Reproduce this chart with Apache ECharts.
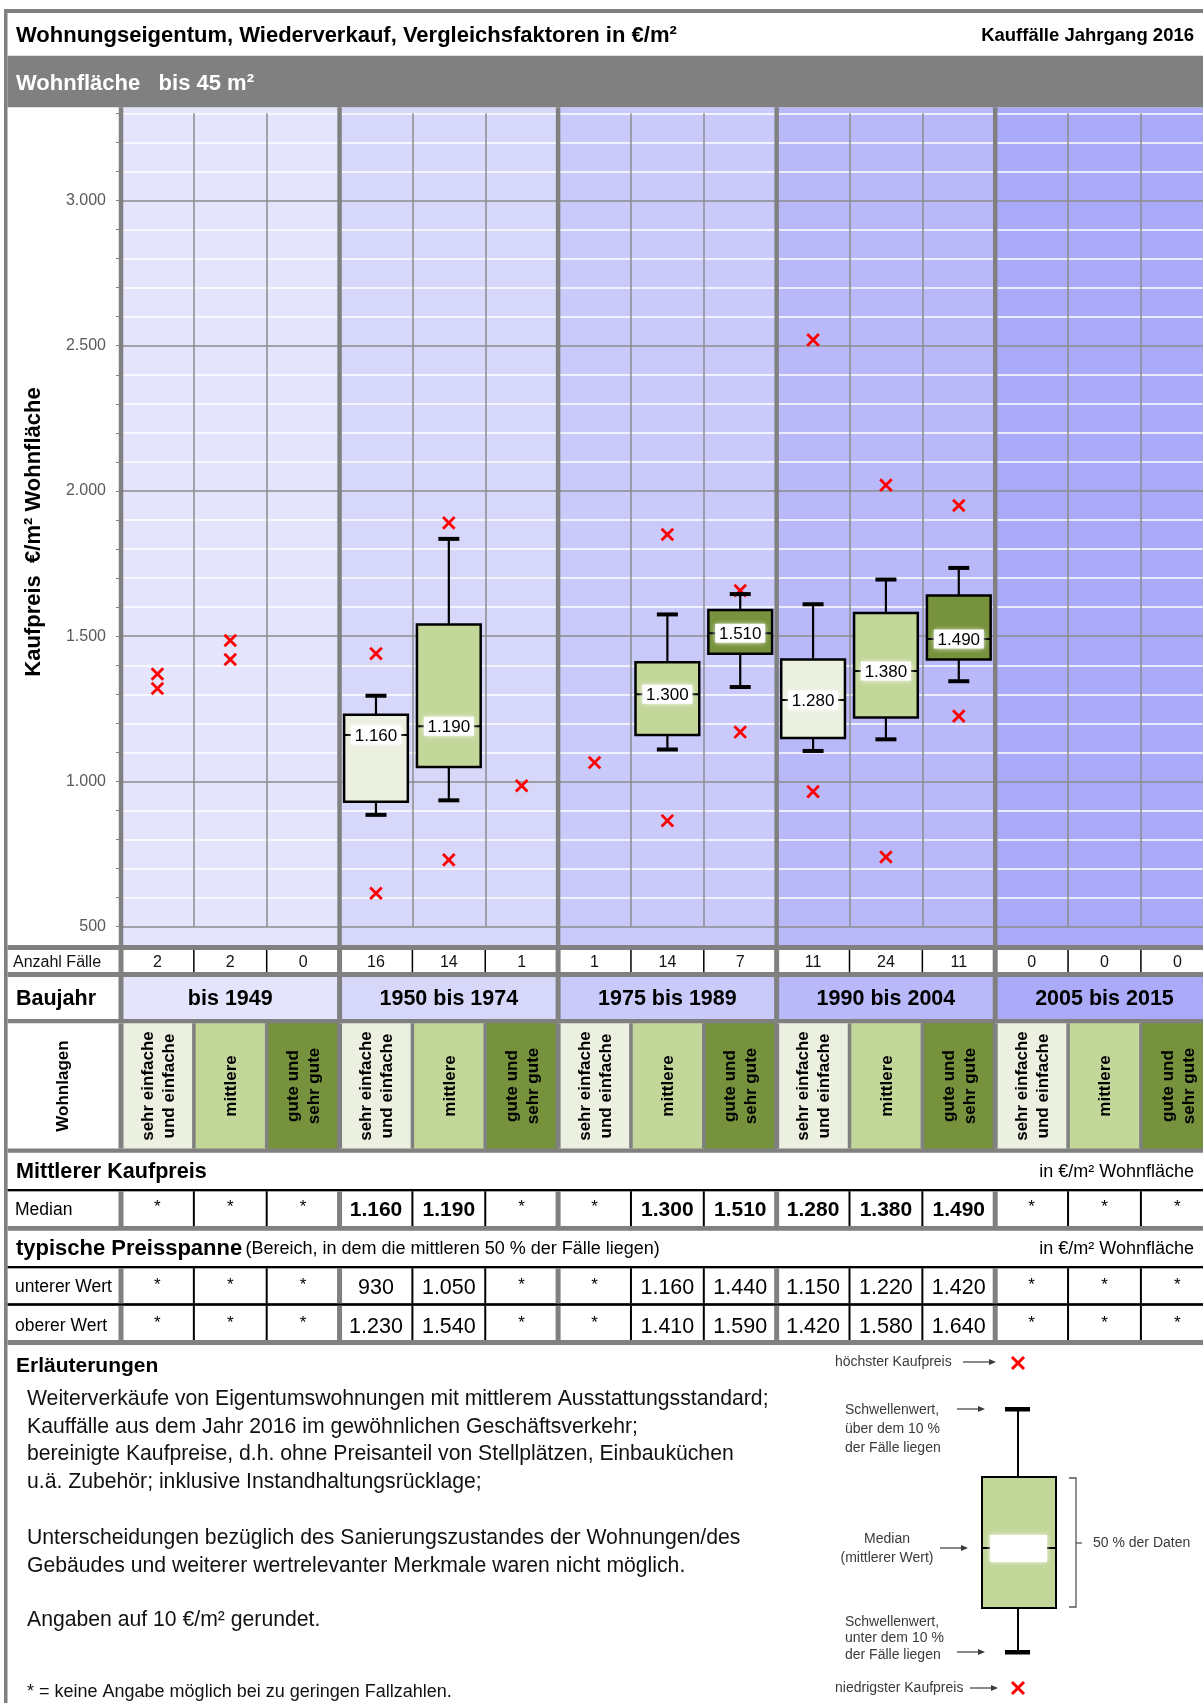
<!DOCTYPE html>
<html><head><meta charset="utf-8">
<script src="https://cdn.jsdelivr.net/npm/echarts@6/dist/echarts.min.js"></script>
<style>html,body{margin:0;padding:0;background:#fff}#c{width:1203px;height:1703px}</style>
</head><body><div id="c"></div>
<script>
// ---------- data ----------
const groupLabels = ['bis 1949','1950 bis 1974','1975 bis 1989','1990 bis 2004','2005 bis 2015'];
const lageLabels = ['sehr einfache\nund einfache','mittlere','gute und\nsehr gute'];
const caseCounts     = [2,2,0, 16,14,1, 1,14,7, 11,24,11, 0,0,0];
const medianValues   = [null,null,null, 1160,1190,null, null,1300,1510, 1280,1380,1490, null,null,null];
const lowerQuartile  = [null,null,null, 930,1050,null, null,1160,1440, 1150,1220,1420, null,null,null];
const upperQuartile  = [null,null,null, 1230,1540,null, null,1410,1590, 1420,1580,1640, null,null,null];
const lowerThreshold = [null,null,null, 885,935,null, null,1110,1325, 1105,1145,1345, null,null,null];
const upperThreshold = [null,null,null, 1295,1835,null, null,1575,1645, 1610,1695,1735, null,null,null];
const lowestPrice    = [1320,1420,null, 615,730,985, 1065,865,1170, 965,740,1225, null,null,null];
const highestPrice   = [1370,1485,null, 1440,1890,null, null,1850,1657, 2520,2020,1950, null,null,null];
const yTickLabels = ['500','1.000','1.500','2.000','2.500','3.000'];

// ---------- helpers ----------
const FF = '"Liberation Sans", Arial, sans-serif';
const W = 1203;
const PL = 121, CW = 72.85, NCOL = 15;
const PT = 113.3, PB = 926.7;
const bx = i => PL + i * CW;
const cx = i => PL + (i + 0.5) * CW;
const BAND = ['#E4E4FC','#D7D7FA','#C9C9FA','#B9B9F9','#AAAAF8'];
const LAGE = ['#EBF0E0','#C4D79B','#76923C'];
const GRAY = '#808080';
const fmt = n => n == null ? '*' : (n >= 1000 ? Math.floor(n/1000) + '.' + String(n % 1000).padStart(3,'0') : String(n));

const G = [];
function R(x,y,w,h,fill,z){ G.push({type:'rect',silent:true,z:z==null?1:z,shape:{x:x,y:y,width:w,height:h},style:{fill:fill}}); }
function L(x1,y1,x2,y2,stroke,lw,z){ G.push({type:'line',silent:true,z:z==null?3:z,shape:{x1:x1,y1:y1,x2:x2,y2:y2},style:{stroke:stroke,lineWidth:lw}}); }
function T(x,y,text,font,o){ o=o||{}; G.push({type:'text',silent:true,z:o.z==null?6:o.z,x:x,y:y,rotation:o.rot||0,
  style:{text:text,font:font,fill:o.fill||'#000',align:o.align||'left',verticalAlign:'middle',lineHeight:o.lh||undefined}}); }
function arrow(x1,x2,y,c){ L(x1,y,x2-5,y,c,1.2,6); G.push({type:'polygon',silent:true,z:6,shape:{points:[[x2,y],[x2-7,y-3],[x2-7,y+3]]},style:{fill:c}}); }
function redX(x,y){ L(x-6,y-6,x+6,y+6,'#FF0000',3,6); L(x-6,y+6,x+6,y-6,'#FF0000',3,6); }

// ---------- frame / header ----------
R(4,9,W-4,4,GRAY,20);
R(4,9,3.5,1703-9,GRAY,20);
R(7.5,55.7,W,51.6,GRAY,1);
T(16,35.5,'Wohnungseigentum, Wiederverkauf, Vergleichsfaktoren in €/m²','bold 22px '+FF);
T(1194,35.5,'Kauffälle Jahrgang 2016','bold 18.5px '+FF,{align:'right'});
T(16,83.5,'Wohnfläche   bis 45 m²','bold 22px '+FF,{fill:'#fff'});

// plot backgrounds & thick separators
for (let g=0; g<5; g++) R(bx(3*g),107.3,3*CW,945-107.3,BAND[g],-1);
for (let g=0; g<=5; g++) R(bx(3*g)-2.25,107.3,4.5,945-107.3,GRAY,1);
T(33.5,532,'Kaufpreis  €/m² Wohnfläche','bold 22px '+FF,{rot:Math.PI/2,align:'center'});

// ---------- table ----------
R(7.5,945,W,400,GRAY,0);
function sepRow(y0,y1,thinColor,thinW){
  for (let i=0;i<=NCOL;i++){
    if (i%3===0) R(bx(i)-2.5,y0,5,y1-y0,GRAY,3);
    else R(bx(i)-thinW/2,y0,thinW,y1-y0,thinColor,3);
  }
}
// Anzahl Fälle
R(7.5,950,W,22,'#fff',1);
sepRow(950,972,'#000',1.5);
T(13,962.5,'Anzahl Fälle','16px '+FF,{fill:'#111'});
for (let i=0;i<NCOL;i++) T(cx(i),962.5,String(caseCounts[i]),'16px '+FF,{align:'center',fill:'#111'});
// Baujahr
R(7.5,977,bx(0)-7.5,42,'#fff',1);
for (let g=0;g<5;g++){ R(bx(3*g),977,3*CW,42,BAND[g],1); T(bx(3*g)+1.5*CW,999,groupLabels[g],'bold 21.5px '+FF,{align:'center'}); }
for (let g=0;g<=5;g++) R(bx(3*g)-2.5,977,5,42,GRAY,3);
T(16,999,'Baujahr','bold 21.5px '+FF);
// Wohnlagen
R(7.5,1023.3,bx(0)-7.5,125.2,'#fff',1);
for (let i=0;i<NCOL;i++){ R(bx(i),1023.3,CW,125.2,LAGE[i%3],1); T(cx(i)+1,1086,lageLabels[i%3],'bold 17px '+FF,{rot:Math.PI/2,align:'center',lh:21}); }
sepRow(1023.3,1148.5,GRAY,3.5);
T(63,1086,'Wohnlagen','bold 17px '+FF,{rot:Math.PI/2,align:'center'});
// Mittlerer Kaufpreis
R(7.5,1152.7,W,36.3,'#fff',1);
T(16,1172,'Mittlerer Kaufpreis','bold 21.6px '+FF);
T(1194,1172,'in €/m² Wohnfläche','18px '+FF,{align:'right'});
R(7.5,1189,W,2.2,'#000',2);
// Median row
R(7.5,1191.2,W,34.8,'#fff',1);
sepRow(1191.2,1226,'#000',2);
T(15,1210,'Median','17.5px '+FF);
for (let i=0;i<NCOL;i++){ const v=medianValues[i]; T(cx(i),v==null?1207:1210,fmt(v),(v==null?'17px ':'bold 21px ')+FF,{align:'center'}); }
// typische Preisspanne
R(7.5,1230.7,W,35.3,'#fff',1);
G.push({type:'text',silent:true,z:6,x:16,y:1249,style:{text:'{b|typische Preisspanne} {r|(Bereich, in dem die mittleren 50 % der Fälle liegen)}',verticalAlign:'middle',align:'left',
  rich:{b:{font:'bold 22px '+FF,fill:'#000'},r:{font:'18px '+FF,fill:'#000'}}}});
T(1194,1249,'in €/m² Wohnfläche','18px '+FF,{align:'right'});
R(7.5,1266,W,2.2,'#000',2);
// unterer Wert
R(7.5,1268.2,W,35.1,'#fff',1);
sepRow(1268.2,1303.3,'#000',2);
T(15,1287.5,'unterer Wert','17.5px '+FF);
for (let i=0;i<NCOL;i++){ const v=lowerQuartile[i]; T(cx(i),v==null?1285:1288.5,fmt(v),(v==null?'17px ':'21.5px ')+FF,{align:'center'}); }
R(7.5,1303.3,W,2.4,'#000',2);
// oberer Wert
R(7.5,1305.7,W,34.3,'#fff',1);
sepRow(1305.7,1340,'#000',2);
T(15,1326.5,'oberer Wert','17.5px '+FF);
for (let i=0;i<NCOL;i++){ const v=upperQuartile[i]; T(cx(i),v==null?1323.5:1327,fmt(v),(v==null?'17px ':'21.5px ')+FF,{align:'center'}); }

// ---------- notes ----------
T(16,1366,'Erläuterungen','bold 21px '+FF);
const noteLines = [
 ['Weiterverkäufe von Eigentumswohnungen mit mittlerem Ausstattungsstandard;',1399.6],
 ['Kauffälle aus dem Jahr 2016 im gewöhnlichen Geschäftsverkehr;',1426.9],
 ['bereinigte Kaufpreise, d.h. ohne Preisanteil von Stellplätzen, Einbauküchen',1454.6],
 ['u.ä. Zubehör; inklusive Instandhaltungsrücklage;',1482],
 ['Unterscheidungen bezüglich des Sanierungszustandes der Wohnungen/des',1538.6],
 ['Gebäudes und weiterer wertrelevanter Merkmale waren nicht möglich.',1565.8],
 ['Angaben auf 10 €/m² gerundet.',1620]
];
noteLines.forEach(l => T(27,l[1],l[0],'21.2px '+FF,{fill:'#111'}));
T(27,1692,'* = keine Angabe möglich bei zu geringen Fallzahlen.','18px '+FF,{fill:'#111'});

// ---------- legend ----------
const LC = '#3a3a3a', LF = '14px '+FF;
T(835,1362,'höchster Kaufpreis',LF,{fill:LC}); arrow(963,996,1362,LC); redX(1018,1363);
T(845,1410,'Schwellenwert,',LF,{fill:LC}); T(845,1429,'über dem 10 %',LF,{fill:LC}); T(845,1448,'der Fälle liegen',LF,{fill:LC});
arrow(957,985,1409,LC);
L(1018,1409,1018,1477,'#000',2,6); R(1005,1407,25,4.5,'#000',7);
R(982,1477,74,131,'#C4D79B',6); G.push({type:'rect',silent:true,z:7,shape:{x:982,y:1477,width:74,height:131},style:{fill:'none',stroke:'#000',lineWidth:2}});
L(982,1548,1056,1548,'#000',2,7); G.push({type:'rect',silent:true,z:8,shape:{x:990,y:1535,width:57,height:27},style:{fill:'#fff',shadowBlur:4,shadowColor:'#fff'}});
L(1018,1608,1018,1652,'#000',2,6); R(1005,1650,25,4.5,'#000',7);
T(887,1539,'Median',LF,{fill:LC,align:'center'}); T(887,1558,'(mittlerer Wert)',LF,{fill:LC,align:'center'});
arrow(940,968,1548,LC);
G.push({type:'polyline',silent:true,z:6,shape:{points:[[1069,1478],[1076,1478],[1076,1607],[1069,1607]]},style:{stroke:'#555',lineWidth:1.3,fill:'none'}});
L(1076,1543,1082,1543,'#555',1.3,6);
T(1093,1543,'50 % der Daten',LF,{fill:LC});
T(845,1622,'Schwellenwert,',LF,{fill:LC}); T(845,1638.5,'unter dem 10 %',LF,{fill:LC}); T(845,1655,'der Fälle liegen',LF,{fill:LC});
arrow(957,985,1652,LC);
T(835,1688,'niedrigster Kaufpreis',LF,{fill:LC}); arrow(970,998,1688,LC); redX(1018,1688);

// ---------- series data ----------
const categories = [];
for (let i=0;i<NCOL;i++) categories.push(groupLabels[Math.floor(i/3)] + ' / ' + lageLabels[i%3].replace('\n',' '));
const boxData = [];
const crossData = [];
for (let i=0;i<NCOL;i++){
  if (medianValues[i]!=null) boxData.push([i, lowerThreshold[i], lowerQuartile[i], medianValues[i], upperQuartile[i], upperThreshold[i], i%3]);
  if (lowestPrice[i]!=null) crossData.push([i, lowestPrice[i]]);
  if (highestPrice[i]!=null) crossData.push([i, highestPrice[i]]);
}

function renderCross(params, api){
  const p = api.coord([api.value(0), api.value(1)]);
  const s = 5.8;
  return {type:'group', children:[
    {type:'line', shape:{x1:p[0]-s,y1:p[1]-s,x2:p[0]+s,y2:p[1]+s}, style:{stroke:'#FF0000',lineWidth:2.8}},
    {type:'line', shape:{x1:p[0]-s,y1:p[1]+s,x2:p[0]+s,y2:p[1]-s}, style:{stroke:'#FF0000',lineWidth:2.8}}
  ]};
}
function renderBox(params, api){
  const i = api.value(0);
  const pLo = api.coord([i, api.value(1)]);
  const pQ1 = api.coord([i, api.value(2)]);
  const pMed = api.coord([i, api.value(3)]);
  const pQ3 = api.coord([i, api.value(4)]);
  const pHi = api.coord([i, api.value(5)]);
  const lage = api.value(6);
  const x = pMed[0];
  const bw = api.size([1,0])[0] * 0.875;
  const capW = 21, capH = 4;
  return {type:'group', children:[
    {type:'line', shape:{x1:x,y1:pHi[1],x2:x,y2:pQ3[1]}, style:{stroke:'#000',lineWidth:2.2}},
    {type:'line', shape:{x1:x,y1:pQ1[1],x2:x,y2:pLo[1]}, style:{stroke:'#000',lineWidth:2.2}},
    {type:'rect', shape:{x:x-capW/2,y:pHi[1]-capH/2,width:capW,height:capH}, style:{fill:'#000'}},
    {type:'rect', shape:{x:x-capW/2,y:pLo[1]-capH/2,width:capW,height:capH}, style:{fill:'#000'}},
    {type:'rect', shape:{x:x-bw/2,y:pQ3[1],width:bw,height:pQ1[1]-pQ3[1]}, style:{fill:LAGE[lage],stroke:'#000',lineWidth:2.5}},
    {type:'line', shape:{x1:x-bw/2,y1:pMed[1],x2:x+bw/2,y2:pMed[1]}, style:{stroke:'#000',lineWidth:2}},
    {type:'rect', shape:{x:x-25,y:pMed[1]-9.5,width:50,height:19}, style:{fill:'#fff',shadowBlur:5,shadowColor:'#fff'}},
    {type:'text', x:x, y:pMed[1]+1.5, style:{text:fmt(api.value(3)),font:'17px '+FF,fill:'#000',align:'center',verticalAlign:'middle'}}
  ]};
}

const chart = echarts.init(document.getElementById('c'), null, {renderer:'canvas'});
chart.setOption({
  animation:false,
  backgroundColor:'#fff',
  grid:{left:PL, top:PT, width:NCOL*CW, height:PB-PT, containLabel:false, outerBoundsMode:'none'},
  xAxis:{type:'category', data:categories, boundaryGap:true,
    axisLine:{show:false}, axisTick:{show:false}, axisLabel:{show:false},
    splitLine:{show:true, interval:0, lineStyle:{color:'#8c8c8c', width:1.5}}},
  yAxis:{type:'value', min:500, max:3300, interval:100,
    axisLine:{show:false},
    axisTick:{show:true, length:5, lineStyle:{color:'#808080', width:1}},
    axisLabel:{color:'#595959', fontSize:16, fontFamily:FF, margin:15,
      formatter: v => (v % 500 === 0 ? (yTickLabels[(v-500)/500] || '') : '')},
    splitLine:{show:true, lineStyle:{color:['#8c8c8c','#ffffff','#ffffff','#ffffff','#ffffff'], width:1.6}}},
  graphic:{elements:G},
  series:[
    {type:'custom', name:'Kaufpreise', renderItem:renderCross, data:crossData, encode:{x:0,y:1}, z:3},
    {type:'custom', name:'Preisspanne', renderItem:renderBox, data:boxData, encode:{x:0,y:[1,2,3,4,5]}, z:4}
  ]
});
</script>
</body></html>
